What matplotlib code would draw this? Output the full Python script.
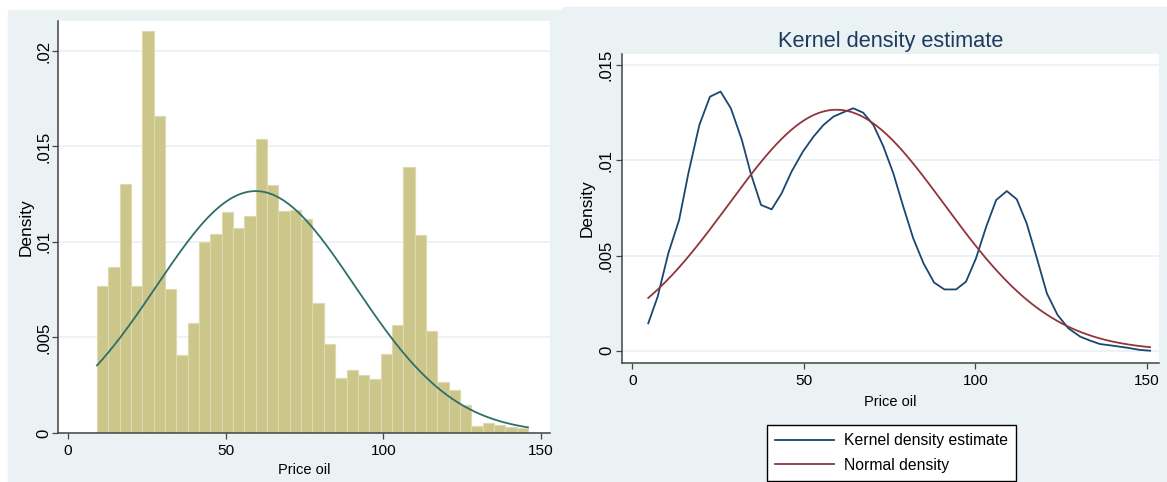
import numpy as np
import matplotlib.pyplot as plt
from matplotlib import font_manager
from matplotlib.patches import Rectangle

plt.rcParams['font.family'] = ['Liberation Sans', 'DejaVu Sans']

# histogram of oil price (density per bin), bins start at 9.2, width 3.595
bin_start = 9.2
bin_width = 3.595
hist_density = [0.00772, 0.00867, 0.01303, 0.00769, 0.02105, 0.01658, 0.00755, 0.00406,
                0.00577, 0.00999, 0.01044, 0.01156, 0.01072, 0.01137, 0.01538, 0.01299,
                0.01163, 0.01168, 0.01121, 0.0068, 0.00467, 0.00286, 0.00331, 0.00303,
                0.00282, 0.00415, 0.00567, 0.01393, 0.01037, 0.00532, 0.00265, 0.00227,
                0.00146, 0.00038, 0.00052, 0.00044, 0.0003, 0.00024]

# fitted normal (mean / sd)
norm_mean = 59.5
norm_sd = 31.5
norm_range_left = (9.2, 145.8)
norm_range_right = (4.6, 151.0)

# kernel density estimate
kde_x = [4.6, 7.35, 10.45, 13.6, 16.3, 19.5, 22.6, 25.7, 28.7, 31.9, 34.5, 37.5, 40.6,
         43.5, 46.4, 49.7, 52.8, 55.7, 58.6, 61.5, 64.4, 67.3, 70.3, 73.2, 76.1, 79.0,
         81.9, 84.9, 88.0, 91.0, 94.4, 97.3, 100.2, 103.2, 106.1, 109.2, 112.1, 115.0,
         117.7, 120.9, 124.0, 127.2, 130.6, 133.5, 136.4, 140.3, 144.2, 148.1, 151.0]
kde_y = [0.00144, 0.00284, 0.00512, 0.00687, 0.00932, 0.01186, 0.01335, 0.01362, 0.01274,
         0.01108, 0.00932, 0.00766, 0.00743, 0.00827, 0.00941, 0.01046, 0.01125, 0.01186,
         0.0123, 0.01253, 0.01274, 0.01251, 0.01186, 0.01073, 0.00932, 0.00757, 0.00591,
         0.00459, 0.00358, 0.00322, 0.00322, 0.00363, 0.00485, 0.00652, 0.00792, 0.00839,
         0.00796, 0.00669, 0.00503, 0.00301, 0.00188, 0.00117, 0.00074, 0.00053, 0.00035,
         0.00026, 0.00016, 0.00004, 0.0]

x_ticks = [0, 50, 100, 150]
y_ticks_left = [0, 0.005, 0.01, 0.015, 0.02]
y_ticks_right = [0, 0.005, 0.01, 0.015]

# the original's horizontal text looks squeezed sideways -> narrow face if we have it
_names = {f.name for f in font_manager.fontManager.ttflist}
if 'Liberation Sans Narrow' in _names:
    HFONT, HSCALE = ['Liberation Sans Narrow', 'DejaVu Sans'], 1.0
else:
    HFONT, HSCALE = ['Liberation Sans', 'DejaVu Sans'], 0.85


def tick_text(v):
    return '0' if v == 0 else ('%g' % v).lstrip('0')


def normal_pdf(x):
    return np.exp(-0.5 * ((x - norm_mean) / norm_sd) ** 2) / (norm_sd * np.sqrt(2 * np.pi))


W, H = 1167, 482
BG = '#eaf2f3'
AXC = '#444444'


def px_box(x0, y0, x1, y1):
    return [x0 / W, 1 - y1 / H, (x1 - x0) / W, (y1 - y0) / H]


def style_axes(ax, yticks, ylab_x, xlab_y, ypad):
    for s in ['top', 'right']:
        ax.spines[s].set_visible(False)
    for s in ['left', 'bottom']:
        ax.spines[s].set_color(AXC)
        ax.spines[s].set_linewidth(1.1)
    ax.set_xticks(x_ticks)
    ax.set_xticklabels([str(v) for v in x_ticks], family=HFONT, fontsize=13 * HSCALE)
    ax.set_yticks(yticks)
    ax.set_yticklabels([tick_text(v) for v in yticks], rotation=90, va='center', fontsize=12)
    ax.tick_params(axis='x', length=4, width=0.9, color=AXC, pad=4.0)
    ax.tick_params(axis='y', length=4, width=0.9, color=AXC, pad=ypad)
    ax.yaxis.grid(True, color=BG, linewidth=1.3)
    ax.set_axisbelow(True)
    ax.set_xlabel('Price oil', family=HFONT, fontsize=12.4 * HSCALE)
    ax.set_ylabel('Density', fontsize=12.4)
    ax.xaxis.set_label_coords(0.5, xlab_y)
    ax.yaxis.set_label_coords(ylab_x, 0.5)


fig = plt.figure(figsize=(W / 100, H / 100), dpi=100)
fig.add_artist(Rectangle((8 / W, 0), (563 - 8) / W, (H - 10) / H,
                         transform=fig.transFigure, color=BG, zorder=0))
fig.add_artist(Rectangle((563 / W, 0), (W - 563) / W, (H - 7) / H,
                         transform=fig.transFigure, color=BG, zorder=0))

# left: histogram with normal overlay
ax1 = fig.add_axes(px_box(58, 21, 550, 433))
edges = bin_start + bin_width * np.arange(len(hist_density))
ax1.bar(edges, hist_density, width=bin_width, align='edge',
        color='#cdc68b', edgecolor='#dedab0', linewidth=0.8)
xn = np.linspace(*norm_range_left, 300)
ax1.plot(xn, normal_pdf(xn), color='#2e6f69', linewidth=1.3)
ax1.set_xlim(-3.17, 152.8)
ax1.set_ylim(0, 0.02157)
style_axes(ax1, y_ticks_left, -0.0498, -0.072, 1.0)

# right: kernel density vs normal
ax2 = fig.add_axes(px_box(622, 54, 1159, 363))
l_kde, = ax2.plot(kde_x, kde_y, color='#1a476f', linewidth=1.3,
                  label='Kernel density estimate')
xn2 = np.linspace(*norm_range_right, 300)
l_norm, = ax2.plot(xn2, normal_pdf(xn2), color='#90353b', linewidth=1.3,
                   label='Normal density')
ax2.set_xlim(-3.06, 153.6)
ax2.set_ylim(-0.000646, 0.015594)
style_axes(ax2, y_ticks_right, -0.0512, -0.102, 1.8)
ax2.set_title('Kernel density estimate', family=HFONT, fontsize=18.4 * HSCALE,
              color='#1e3a5e', pad=5.3)

leg_size = 13.4 * HSCALE
em = leg_size * 100 / 72
leg = fig.legend(handles=[l_kde, l_norm], loc='lower left',
                 bbox_to_anchor=(767 / W, 1 / H), bbox_transform=fig.transFigure,
                 frameon=True, fancybox=False, framealpha=1, edgecolor='black',
                 prop=dict(family=HFONT, size=leg_size),
                 handlelength=59 / em, handletextpad=10 / em,
                 labelspacing=0.62, borderpad=8 / em, borderaxespad=0)
leg.get_frame().set_linewidth(1.0)

fig.savefig('out.png', dpi=100)
